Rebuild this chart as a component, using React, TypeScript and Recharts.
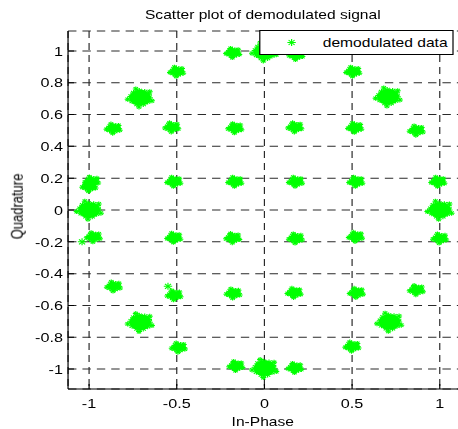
import React from 'react';
import { ScatterChart, Scatter, XAxis, YAxis, CartesianGrid, Legend } from 'recharts';

type IQ = { i: number; q: number };

// dense clusters on the outer ring (0°, 45°, 90° ...)
const majorClusters: IQ[] = [
  { i: 1.0, q: 0.0 },
  { i: -1.0, q: 0.0 },
  { i: 0.0, q: 0.995 },
  { i: 0.0, q: -0.995 },
  { i: 0.705, q: 0.712 },
  { i: -0.709, q: 0.706 },
  { i: 0.713, q: -0.704 },
  { i: -0.709, q: -0.706 },
];

// lighter clusters: the rest of the outer ring plus the inner 4x4 grid
const minorClusters: IQ[] = [
  { i: -0.18, q: 0.988 },
  { i: 0.18, q: 0.975 },
  { i: -0.162, q: -0.98 },
  { i: 0.174, q: -0.992 },
  { i: -0.5, q: 0.87 },
  { i: 0.505, q: 0.87 },
  { i: -0.49, q: -0.864 },
  { i: 0.5, q: -0.858 },
  { i: -0.862, q: 0.512 },
  { i: 0.867, q: 0.5 },
  { i: -0.86, q: -0.48 },
  { i: 0.867, q: -0.503 },
  { i: -0.985, q: 0.18 },
  { i: -1.0, q: 0.148 },
  { i: 0.99, q: 0.178 },
  { i: -0.975, q: -0.17 },
  { i: 1.0, q: -0.178 },
  { i: -0.528, q: 0.52 },
  { i: -0.168, q: 0.515 },
  { i: 0.174, q: 0.52 },
  { i: 0.516, q: 0.518 },
  { i: -0.516, q: 0.178 },
  { i: -0.168, q: 0.178 },
  { i: 0.178, q: 0.178 },
  { i: 0.522, q: 0.178 },
  { i: -0.516, q: -0.174 },
  { i: -0.18, q: -0.176 },
  { i: 0.178, q: -0.178 },
  { i: 0.52, q: -0.168 },
  { i: -0.515, q: -0.535 },
  { i: -0.178, q: -0.524 },
  { i: 0.17, q: -0.52 },
  { i: 0.525, q: -0.52 },
];

// isolated samples
const strayPoints: IQ[] = [
  { i: -1.04, q: -0.2 },
  { i: -0.55, q: -0.48 },
];

const xTicks = [-1, -0.5, 0, 0.5, 1];
const yTicks = [-1, -0.8, -0.6, -0.4, -0.2, 0, 0.2, 0.4, 0.6, 0.8, 1];

const GREEN = '#00ff00';
const FONT = '"Liberation Sans", Arial, Helvetica, sans-serif';

// matlab style '*' marker
function Star({ x, y, s }: { x: number; y: number; s: number }) {
  const d = s * 0.72;
  return (
    <g stroke={GREEN} strokeWidth={1}>
      <line x1={x - s} y1={y} x2={x + s} y2={y} />
      <line x1={x} y1={y - s} x2={x} y2={y + s} />
      <line x1={x - d} y1={y - d} x2={x + d} y2={y + d} />
      <line x1={x - d} y1={y + d} x2={x + d} y2={y - d} />
    </g>
  );
}

// spikes around the edge of a cluster blob, in degrees
const edgeAngles = [0, 35, 70, 110, 150, 190, 225, 265, 300, 335];
const outerAngles = [20, 95, 170, 250, 320];

function clusterShape(rx: number, ry: number) {
  return (props: any) => {
    const { cx, cy } = props;
    if (cx == null || cy == null) return <g />;
    return (
      <g>
        <ellipse cx={cx} cy={cy} rx={rx} ry={ry} fill={GREEN} />
        {edgeAngles.map((a, k) => {
          const t = (a * Math.PI) / 180;
          return (
            <Star key={k} x={cx + Math.cos(t) * rx * 0.85} y={cy + Math.sin(t) * ry * 0.85} s={3} />
          );
        })}
        {outerAngles.map((a, k) => {
          const t = (a * Math.PI) / 180;
          return (
            <Star key={'o' + k} x={cx + Math.cos(t) * (rx + 1.5)} y={cy + Math.sin(t) * (ry + 1.5)} s={2.5} />
          );
        })}
      </g>
    );
  };
}

const starShape = (props: any) => <Star x={props.cx} y={props.cy} s={3.5} />;

const renderLegend = () => (
  <svg width={162} height={25} style={{ display: 'block', overflow: 'visible' }}>
    <rect x={0.5} y={0.5} width={161} height={24} fill="#fff" stroke="#000" />
    <Star x={27} y={12.5} s={3.5} />
    <text x={53} y={17.5} fontSize={13} fontFamily={FONT} fill="#000">
      demodulated data
    </text>
  </svg>
);

export default function App() {
  const W = 386;
  const H = 429;
  return (
    <div style={{ position: 'fixed', left: 0, top: 0, width: 458, height: 429, overflow: 'hidden', background: '#fff' }}>
      <div
        style={{
          position: 'relative',
          width: W,
          height: H,
          transform: 'scaleX(1.2)',
          transformOrigin: 'left top',
          fontFamily: FONT,
        }}
      >
        <ScatterChart width={W} height={H} margin={{ top: 31, right: 2, bottom: 0, left: 0 }}>
          <CartesianGrid stroke="#2a2a2a" strokeDasharray="7 5" />
          <XAxis
            dataKey="i"
            type="number"
            domain={[-1.12, 1.12]}
            ticks={xTicks}
            height={40}
            stroke="#000"
            tickSize={-5}
            tickMargin={14.5}
            tick={{ fill: '#000', fontSize: 13.5 }}
            allowDataOverflow
          />
          <XAxis
            xAxisId="top"
            orientation="top"
            type="number"
            domain={[-1.12, 1.12]}
            ticks={xTicks}
            height={0}
            stroke="#000"
            tickSize={-5}
            tick={false}
            allowDataOverflow
          />
          <YAxis
            dataKey="q"
            type="number"
            domain={[-1.125, 1.125]}
            ticks={yTicks}
            width={56.7}
            stroke="#000"
            tickSize={-5}
            tickMargin={9.2}
            tick={{ fill: '#000', fontSize: 13.5 }}
            allowDataOverflow
          />
          <Legend
            layout="vertical"
            align="center"
            verticalAlign="middle"
            content={renderLegend}
            wrapperStyle={{ left: 216, top: 30, width: 162, height: 25 }}
          />
          <Scatter name="demodulated data" data={majorClusters} shape={clusterShape(9, 7.8)} isAnimationActive={false} />
          <Scatter name="minor" data={minorClusters} shape={clusterShape(4.2, 3.2)} isAnimationActive={false} legendType="none" />
          <Scatter name="stray" data={strayPoints} shape={starShape} isAnimationActive={false} legendType="none" />
        </ScatterChart>
        <svg
          width={W}
          height={H}
          style={{ position: 'absolute', left: 0, top: 0, pointerEvents: 'none' }}
        >
          <text x={219} y={19.5} textAnchor="middle" fontSize={13} fontFamily={FONT} fill="#000">
            Scatter plot of demodulated signal
          </text>
          <text x={219} y={426} textAnchor="middle" fontSize={13} fontFamily={FONT} fill="#000">
            In-Phase
          </text>
          <text
            x={19}
            y={206.5}
            textAnchor="middle"
            fontSize={13}
            fontFamily={FONT}
            fill="#000"
            transform="rotate(-90 19 206.5)"
          >
            Quadrature
          </text>
        </svg>
      </div>
    </div>
  );
}
